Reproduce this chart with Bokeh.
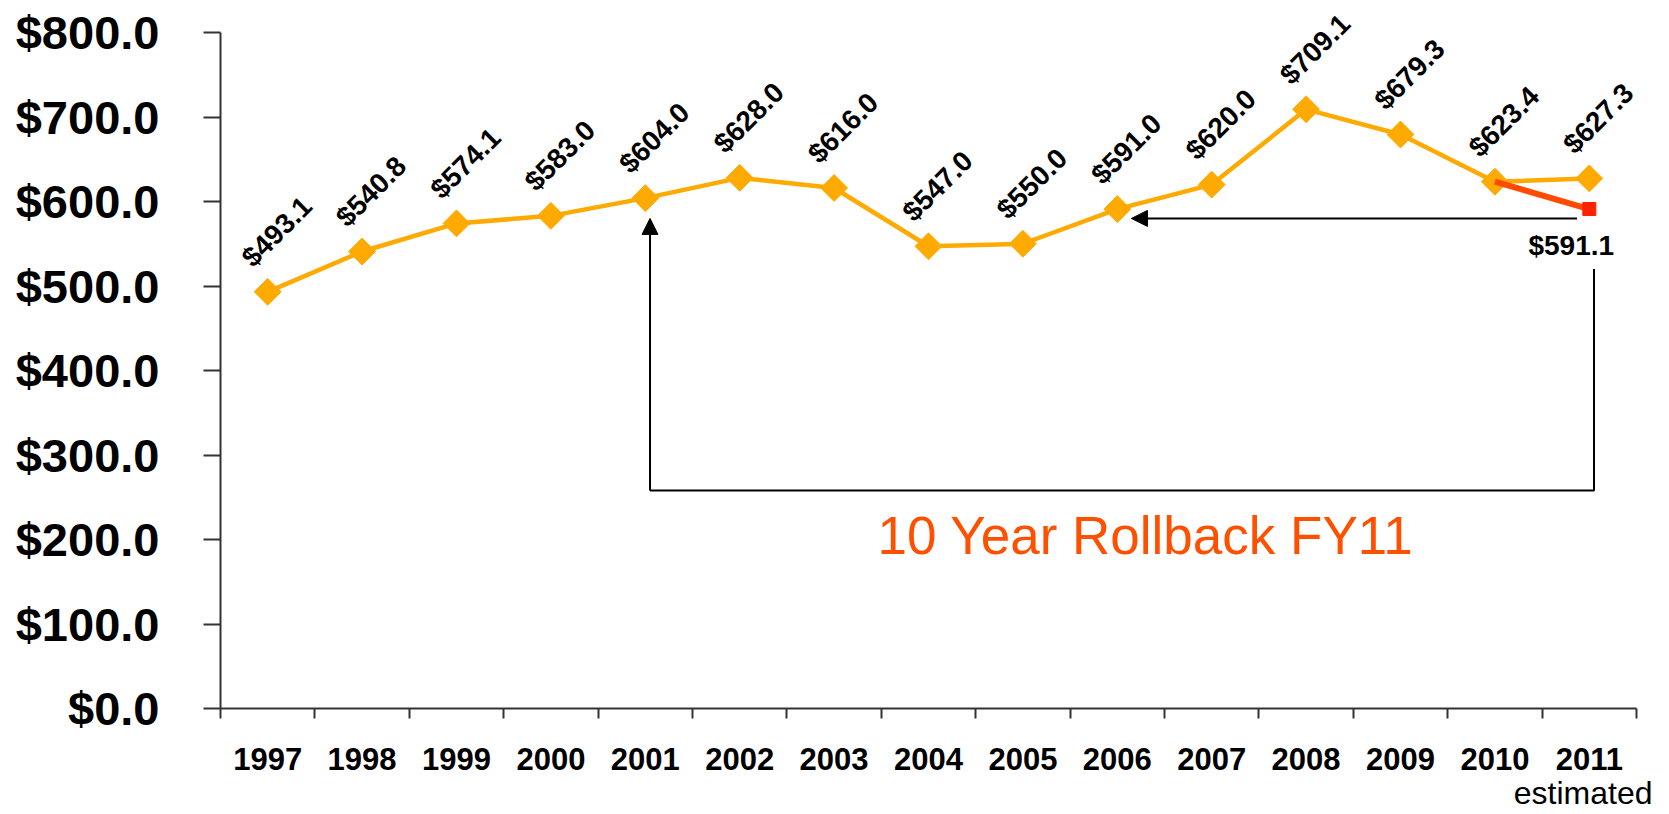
import math
from bokeh.plotting import figure
from bokeh.models import (Range1d, FixedTicker, NumeralTickFormatter, Label, Arrow,
                          NormalHead, ColumnDataSource, Title)
from bokeh.core.properties import value
from bokeh.embed import file_html
from bokeh.resources import INLINE

# ---------------- data ----------------
years = ["1997", "1998", "1999", "2000", "2001", "2002", "2003", "2004",
         "2005", "2006", "2007", "2008", "2009", "2010", "2011"]
budget = [493.1, 540.8, 574.1, 583.0, 604.0, 628.0, 616.0, 547.0,
          550.0, 591.0, 620.0, 709.1, 679.3, 623.4, 627.3]
rollback_years = ["2010", "2011"]
rollback_values = [623.4, 591.1]
y_ticks = [0, 100, 200, 300, 400, 500, 600, 700, 800]
title_note = "10 Year Rollback FY11"
footnote = "estimated"
# rollback bracket: from 2001 to 2011, pointing to 2006 level
bracket_from = "2001"
bracket_to = "2011"
bracket_target = "2006"

FONT = "Liberation Sans"
ORANGE = "#FFAA00"
RED = "#FF4A00"

# category centres on a numeric axis
xc = {y: i + 0.5 for i, y in enumerate(years)}
xs = [xc[y] for y in years]
labels = ["$%.1f" % v for v in budget]

# frame reaches the top of the page so rotated labels are not clipped;
# the axis itself is bounded to 0..800
y_top = y_ticks[-1] * 708.0 / 676.0

p = figure(width=1669, height=814, x_range=Range1d(0, len(years)),
           y_range=Range1d(y_ticks[0], y_top),
           output_backend="svg", toolbar_location=None,
           min_border_left=220, min_border_right=33,
           min_border_top=0, min_border_bottom=106)
p.xgrid.visible = False
p.ygrid.visible = False
p.outline_line_color = None
p.background_fill_color = "white"
p.border_fill_color = "white"

# y axis
ya = p.yaxis[0]
ya.bounds = (y_ticks[0], y_ticks[-1])
ya.ticker = FixedTicker(ticks=y_ticks)
ya.formatter = NumeralTickFormatter(format="$0.0")
ya.major_label_text_font = FONT
ya.major_label_text_font_style = "bold"
ya.major_label_text_font_size = "47px"
ya.major_label_text_color = "black"
ya.major_tick_out = 17
ya.major_tick_in = 0
ya.minor_tick_out = 0
ya.minor_tick_in = 0
ya.major_label_standoff = 44
ya.axis_line_width = 2
ya.axis_line_color = "#333333"
ya.major_tick_line_width = 2
ya.major_tick_line_color = "#333333"

# x axis: labels at centres, ticks at boundaries
xa = p.xaxis[0]
xa.ticker = FixedTicker(ticks=xs, minor_ticks=list(range(len(years) + 1)))
xa.major_label_overrides = {x: y for x, y in zip(xs, years)}
xa.major_label_text_font = FONT
xa.major_label_text_font_style = "bold"
xa.major_label_text_font_size = "31px"
xa.major_label_text_color = "black"
xa.major_tick_out = 0
xa.major_tick_in = 0
xa.minor_tick_out = 10
xa.minor_tick_in = 0
xa.minor_tick_line_width = 2
xa.minor_tick_line_color = "#333333"
xa.major_label_standoff = 29
xa.axis_line_width = 2
xa.axis_line_color = "#333333"

# bracket and arrows (black)
bx0 = xc[bracket_from] + 0.05
bx1 = xc[bracket_to] + 0.05
level_bottom = 258
level_arrow = 580
p.line([bx0, bx1, bx1], [level_bottom, level_bottom, 520], line_color="black", line_width=2)
p.add_layout(Arrow(x_start=bx0, y_start=level_bottom, x_end=bx0, y_end=level_arrow,
                   line_color="black", line_width=2,
                   end=NormalHead(size=16, fill_color="black", line_color="black")))
p.add_layout(Arrow(x_start=xc[bracket_to] - 0.13, y_start=level_arrow,
                   x_end=xc[bracket_target] + 0.15, y_end=level_arrow,
                   line_color="black", line_width=2,
                   end=NormalHead(size=16, fill_color="black", line_color="black")))

# main series
src = ColumnDataSource(dict(x=xs, y=budget, label=labels))
p.line("x", "y", source=src, line_color=ORANGE, line_width=4.5)
p.scatter("x", "y", source=src, marker="square", size=19, angle=math.pi / 4,
          fill_color=ORANGE, line_color=ORANGE)
p.text("x", "y", text="label", source=src, angle=math.pi / 4, x_offset=9, y_offset=-60,
       text_align="center", text_baseline="middle", text_font=value(FONT),
       text_font_style="bold", text_font_size="28px", text_color="black")

# rollback series
rx = [xc[y] for y in rollback_years]
p.line(rx, rollback_values, line_color=RED, line_width=6)
p.scatter(rx[-1:], rollback_values[-1:], marker="square", size=13,
          fill_color="#FF2200", line_color="#FF2200")
p.text(rx[-1:], rollback_values[-1:], text=["$%.1f" % rollback_values[-1]],
       x_offset=-18, y_offset=36, text_align="center", text_baseline="middle",
       text_font=value(FONT), text_font_style="bold", text_font_size="28px",
       text_color="black")

p.add_layout(Label(x=9.8, y=205, text=title_note, text_align="center",
                   text_baseline="middle", text_font=FONT, text_font_size="53px",
                   text_color="#FF5000"))
p.add_layout(Title(text=footnote, align="right", offset=-16, standoff=0,
                   text_font=FONT, text_font_size="32px", text_font_style="normal",
                   text_color="black"), "below")

open("out.html", "w").write(file_html(p, INLINE))
